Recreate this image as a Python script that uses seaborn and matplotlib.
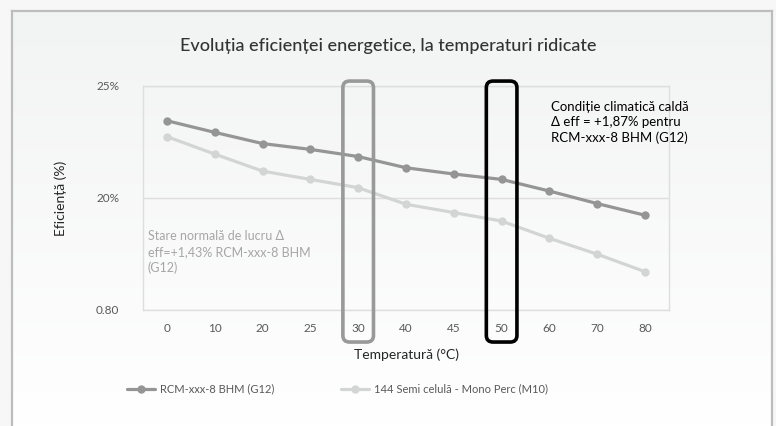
import matplotlib.pyplot as plt
import seaborn as sns
import pandas as pd
import numpy as np
from matplotlib.patches import FancyBboxPatch

# Data
temperatures = ["0", "10", "20", "25", "30", "40", "45", "50", "60", "70", "80"]
rcm_g12 = [23.45, 22.93, 22.43, 22.17, 21.85, 21.35, 21.07, 20.83, 20.31, 19.75, 19.23]
mono_m10 = [22.74, 21.96, 21.20, 20.83, 20.46, 19.72, 19.35, 18.97, 18.20, 17.49, 16.71]
series_names = ["RCM-xxx-8 BHM (G12)", "144 Semi celulă - Mono Perc (M10)"]
y_ticks = [15, 20, 25]
y_tick_labels = ["0.80", "20%", "25%"]

df = pd.DataFrame({
    "Temperatura": temperatures * 2,
    "Eficienta": rcm_g12 + mono_m10,
    "Serie": [series_names[0]] * len(temperatures) + [series_names[1]] * len(temperatures),
})

sns.set_style("white")
plt.rcParams["font.family"] = ["Lato", "DejaVu Sans"]

fig = plt.figure(figsize=(7.76, 4.26), dpi=100, facecolor="#f7f7f7")

# Card background with a soft vertical gradient and a grey border
bg = fig.add_axes([12 / 776, 0, 760 / 776, 415 / 426], zorder=0)
grad = np.linspace(0, 1, 256).reshape(-1, 1)
bg.imshow(grad, aspect="auto", cmap=sns.blend_palette(["#f2f3f3", "#ffffff"], as_cmap=True),
          extent=[0, 1, 0, 1], origin="upper")
bg.set_xlim(0, 1)
bg.set_ylim(0, 1)
bg.set_xticks([])
bg.set_yticks([])
bg.spines["bottom"].set_visible(False)
for side in ["left", "right", "top"]:
    bg.spines[side].set_color("#bdbdbd")
    bg.spines[side].set_linewidth(1.6)

ax = fig.add_axes([143 / 776, 116 / 426, 526 / 776, 224 / 426], zorder=1)
ax.set_facecolor("none")

palette = {series_names[0]: "#959595", series_names[1]: "#d3d5d5"}
sns.lineplot(data=df, x="Temperatura", y="Eficienta", hue="Serie", palette=palette,
             marker="o", markersize=6, markeredgewidth=0, linewidth=2.3,
             sort=False, ax=ax, legend=True)

ax.set_xlim(-0.5, len(temperatures) - 0.5)
ax.set_ylim(15, 25)
ax.set_yticks(y_ticks)
ax.set_yticklabels(y_tick_labels)
ax.yaxis.grid(True, color="#dedede", linewidth=1)
for side in ax.spines:
    ax.spines[side].set_color("#dedede")
    ax.spines[side].set_linewidth(1)
ax.tick_params(axis="both", length=0, labelsize=8.5, labelcolor="#595959")
ax.tick_params(axis="x", pad=9)
ax.tick_params(axis="y", pad=17)
ax.set_xlabel("Temperatură (°C)", fontsize=10, color="#262626", labelpad=11)
ax.set_ylabel("Eficiență (%)", fontsize=10, color="#262626", labelpad=21)

fig.suptitle("Evoluția eficienței energetice, la temperaturi ridicate",
             x=0.5, y=0.91, fontsize=13, color="#333333", fontweight="medium")

# Highlight boxes around 30 and 50 degrees
for label, color in [("30", "#999999"), ("50", "#000000")]:
    i = temperatures.index(label)
    box = FancyBboxPatch((i - 0.32, 13.57), 0.64, 25.22 - 13.57,
                         boxstyle="round,pad=0,rounding_size=0.14",
                         mutation_aspect=2.1, fill=False, edgecolor=color,
                         linewidth=2.6, clip_on=False, zorder=5)
    ax.add_patch(box)

ax.text(-0.4, 18.55, "Stare normală de lucru Δ\neff=+1,43% RCM-xxx-8 BHM\n(G12)",
        fontsize=9, color="#a6a6a6", va="top", ha="left", linespacing=1.35)
ax.text(8.03, 24.35, "Condiție climatică caldă\nΔ eff = +1,87% pentru\nRCM-xxx-8 BHM (G12)",
        fontsize=9.5, color="#000000", va="top", ha="left", linespacing=1.35)

handles, labels = ax.get_legend_handles_labels()
ax.legend_.remove()
fig.legend(handles, labels, loc="center left", bbox_to_anchor=(117 / 776, 1 - 389 / 426),
           ncol=2, frameon=False, fontsize=8, handlelength=2.5, handletextpad=0.45,
           columnspacing=6.0, labelcolor="#595959")

fig.savefig("out.png", dpi=100, facecolor=fig.get_facecolor())
